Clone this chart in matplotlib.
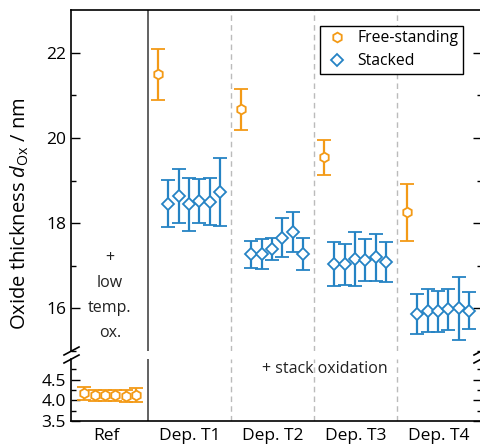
import numpy as np
import matplotlib.pyplot as plt

plt.rcParams['font.family'] = ['Open Sans', 'DejaVu Sans']
plt.rcParams['mathtext.fontset'] = 'custom'
plt.rcParams['mathtext.it'] = 'Open Sans:italic'
plt.rcParams['mathtext.rm'] = 'Open Sans'

# Categories
groups = ['Ref', 'Dep. T1', 'Dep. T2', 'Dep. T3', 'Dep. T4']

# Reference samples (free-standing, low temp. ox.)
ref_val = [4.17, 4.12, 4.12, 4.12, 4.10, 4.14]
ref_err = [0.16, 0.125, 0.135, 0.13, 0.14, 0.17]

# Free-standing, one per deposition temperature
free_val = [21.49, 20.67, 19.55, 18.25]
free_err = [0.59, 0.48, 0.41, 0.66]

# Stacked, six per deposition temperature
stack_val = [
    [18.46, 18.64, 18.44, 18.51, 18.50, 18.73],
    [17.27, 17.28, 17.39, 17.66, 17.79, 17.27],
    [17.04, 17.03, 17.16, 17.13, 17.20, 17.09],
    [15.87, 15.95, 15.93, 15.98, 16.00, 15.95],
]
stack_err = [
    [0.545, 0.63, 0.615, 0.515, 0.555, 0.805],
    [0.315, 0.345, 0.265, 0.45, 0.475, 0.375],
    [0.51, 0.475, 0.625, 0.495, 0.555, 0.475],
    [0.47, 0.495, 0.485, 0.485, 0.745, 0.445],
]

orange = '#F39A16'
blue = '#2583C4'

W, H = 481, 446
fig = plt.figure(figsize=(W / 100, H / 100), dpi=100)
left, right = 71 / W, 482 / W
ax = fig.add_axes([left, 1 - 351 / H, right - left, (351 - 10) / H])
axb = fig.add_axes([left, 1 - 421 / H, right - left, (421 - 359) / H])

xlim = (0.072, 5.024)
ebkw = dict(capsize=5.2, capthick=1.6, elinewidth=1.6, mfc='white', mew=1.3, ls='none', zorder=3)

# free-standing
xf = np.arange(1, 5) + 0.12
ax.errorbar(xf, free_val, yerr=free_err, fmt='h', ms=7.0, color=orange, mec=orange, **ebkw)
# stacked
for i in range(4):
    xs = i + 1 + 0.245 + 0.125 * np.arange(6)
    ax.errorbar(xs, stack_val[i], yerr=stack_err[i], fmt='D', ms=6.2, color=blue, mec=blue, **ebkw)
# reference
xr = 0.233 + 0.125 * np.arange(6)
axb.errorbar(xr, ref_val, yerr=ref_err, fmt='h', ms=7.0, color=orange, mec=orange, **ebkw)

# legend handles
hf, = ax.plot([], [], 'h', ms=7.0, mfc='white', mec=orange, mew=1.3, ls='none', label='Free-standing')
hs, = ax.plot([], [], 'D', ms=6.0, mfc='white', mec=blue, mew=1.3, ls='none', label='Stacked')
leg = ax.legend(handles=[hf, hs], loc='upper right', bbox_to_anchor=(0.973, 0.977), fontsize=11.3,
                frameon=True, fancybox=False, edgecolor='black', framealpha=1,
                handletextpad=0.55, borderpad=0.3, labelspacing=0.45, handlelength=1.5)
leg.get_frame().set_linewidth(1.0)

for a in (ax, axb):
    a.set_xlim(*xlim)
    a.axvline(1, color='#555555', lw=1.3, zorder=1)
    for s in (2, 3, 4):
        a.axvline(s, color='#BBBBBB', lw=1.0, ls=(0, (4, 3)), zorder=1)
    a.tick_params(axis='y', which='both', direction='in', right=True, labelsize=12.5)
    a.tick_params(axis='y', which='major', length=6.5, width=1)
    a.tick_params(axis='y', which='minor', length=3.5, width=1)
    a.spines['right'].set_visible(False)
    for sp in a.spines.values():
        sp.set_linewidth(1.2)

ax.set_ylim(15, 23)
ax.set_yticks([16, 18, 20, 22])
ax.set_yticks([15, 17, 19, 21], minor=True)
ax.spines['bottom'].set_visible(False)
ax.set_xticks([])

axb.set_ylim(3.5, 5.0)
axb.set_yticks([3.5, 4.0, 4.5])
axb.set_yticklabels(['3.5', '4.0', '4.5'])
axb.set_yticks([3.75, 4.25, 4.75], minor=True)
axb.spines['top'].set_visible(False)
axb.set_xticks(np.arange(5) + 0.5)
axb.set_xticklabels(groups, fontsize=12.5)
axb.tick_params(axis='x', length=0, pad=5)

# annotations
ax.text(0.54, 16.3, '+\nlow\ntemp.\nox.', ha='center', va='center', fontsize=11.5, linespacing=1.75,
        color='#222222')
axb.text(3.13, 4.77, '+ stack oxidation', ha='center', va='center', fontsize=11.5, color='#222222')

fig.text(20 / W, 1 - 214 / H, 'Oxide thickness $d_{\\mathrm{Ox}}$ / nm', rotation=90,
         ha='center', va='center', fontsize=14.5)

# axis break marks
for xc in (71, 481):
    for yc in (351, 359):
        fig.add_artist(plt.Line2D([(xc - 7) / W, (xc + 8) / W], [1 - (yc + 4) / H, 1 - (yc - 4) / H],
                                  color='black', lw=1.2))

fig.savefig('out.png', dpi=100)
